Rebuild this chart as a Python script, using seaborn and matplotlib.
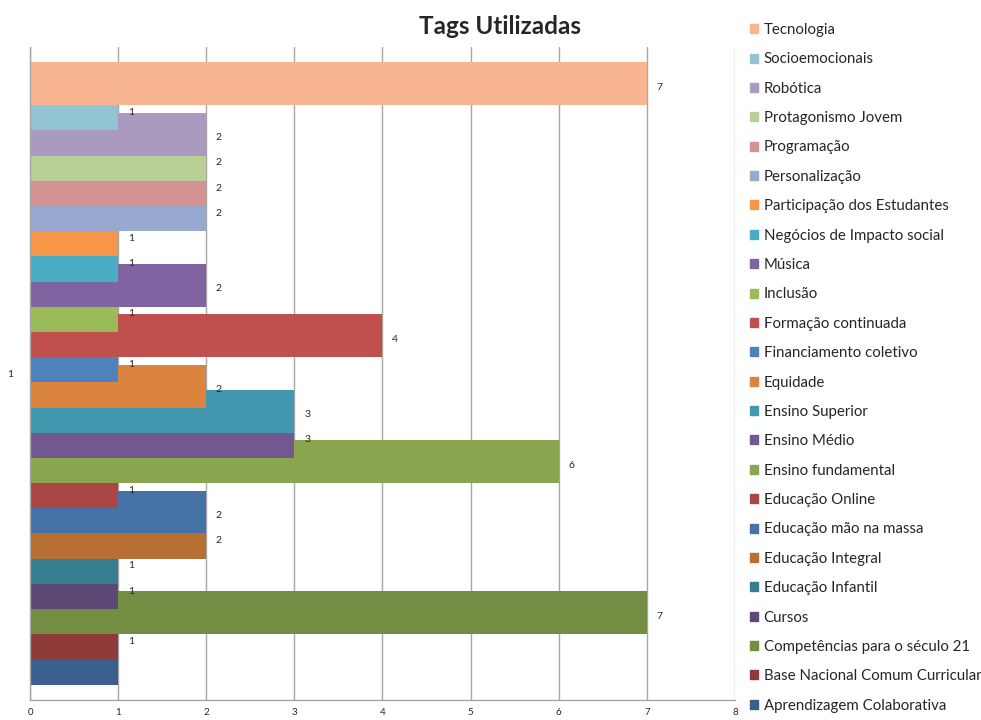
import pandas as pd
import matplotlib
matplotlib.use("Agg")
import matplotlib.pyplot as plt
import seaborn as sns

# Tags listed top -> bottom as shown in the chart
tags = [
    "Tecnologia", "Socioemocionais", "Robótica", "Protagonismo Jovem",
    "Programação", "Personalização", "Participação dos Estudantes",
    "Negócios de Impacto social", "Música", "Inclusão", "Formação continuada",
    "Financiamento coletivo", "Equidade", "Ensino Superior", "Ensino Médio",
    "Ensino fundamental", "Educação Online", "Educação mão na massa",
    "Educação Integral", "Educação Infantil", "Cursos",
    "Competências para o século 21", "Base Nacional Comum Curricular",
    "Aprendizagem Colaborativa",
]
counts = [7, 1, 2, 2, 2, 2, 1, 1, 2, 1, 4, 1, 2, 3, 3, 6, 1, 2, 2, 1, 1, 7, 1, 1]
colors = [
    "#F9B591", "#93C4D4", "#AB9AC0", "#B9CF96", "#D49393", "#97A9CF",
    "#F79646", "#4BACC6", "#8064A2", "#9BBB59", "#C0504D", "#4F81BD",
    "#DB843D", "#4198AF", "#71588F", "#89A54E", "#AA4643", "#4572A7",
    "#B86F34", "#367F92", "#5E4875", "#738D43", "#8D3A38", "#3A5F8C",
]
x_ticks = [0, 1, 2, 3, 4, 5, 6, 7, 8]

df = pd.DataFrame({"tag": tags, "count": counts})

sns.set_style("white")
plt.rcParams["font.family"] = ["Lato", "DejaVu Sans"]

fig = plt.figure(figsize=(9.81, 7.2), dpi=100)
ax = fig.add_axes([30 / 981, 1 - 700 / 720, 705 / 981, 653 / 720])

sns.barplot(data=df, y="tag", x="count", hue="tag", order=tags, hue_order=tags,
            palette=dict(zip(tags, colors)), width=1.7, dodge=False,
            legend=False, ax=ax, saturation=1)

# bars overlap: upper bars are painted over the ones below
for p in ax.patches:
    yc = p.get_y() + p.get_height() / 2
    p.set_zorder(2 + (len(tags) - yc) / 100)
    p.set_linewidth(0)

# value labels (the bottom bar's label is not shown in the original)
for c, tag in zip(ax.containers, tags):
    if tag == tags[-1]:
        continue
    for t in ax.bar_label(c, padding=7, fontsize=7.5, zorder=5):
        t.xyann = (7, -2.5)

ax.set_xlim(0, 8)
ax.set_ylim(len(tags) - 1 + 1.46, -1.46)
ax.set_xticks(x_ticks)
ax.set_xticklabels([str(t) for t in x_ticks], fontsize=7)
ax.set_yticks([(len(tags) - 1) / 2])
ax.set_yticklabels(["1"], fontsize=7.5)
ax.tick_params(axis="x", length=0, pad=6)
ax.tick_params(axis="y", length=0, pad=12)
ax.set_xlabel("")
ax.set_ylabel("")
ax.grid(axis="x", color="#A6A6A6", linewidth=1)
ax.set_axisbelow(True)
for s in ["top", "right"]:
    ax.spines[s].set_visible(False)
for s in ["left", "bottom"]:
    ax.spines[s].set_color("#A6A6A6")
    ax.spines[s].set_linewidth(1)

fig.text(500 / 981, 1 - 27 / 720, "Tags Utilizadas", ha="center", va="center",
         fontsize=17.5, fontweight="bold")

# legend, same order as the bars
handles = [plt.Rectangle((0, 0), 1, 1, color=col) for col in colors]
fig.legend(handles, tags, loc="upper left", bbox_to_anchor=(750 / 981, 1 - 23 / 720),
           frameon=False, fontsize=10.8, handlelength=0.55, handleheight=0.55,
           handletextpad=0.35, labelspacing=1.025, borderpad=0, borderaxespad=0)

fig.savefig("out.png", dpi=100)
